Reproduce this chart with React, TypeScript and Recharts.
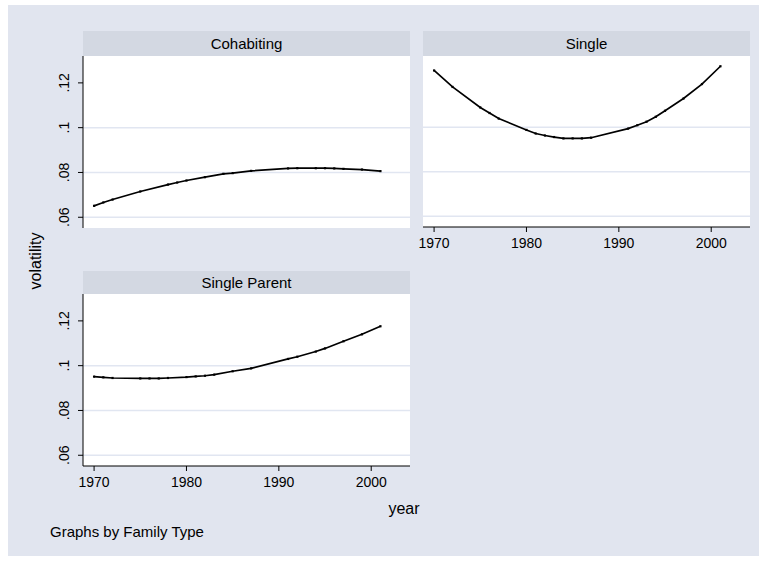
import React from "react";
import { LineChart, Line, XAxis, YAxis, ReferenceLine } from "recharts";

const cohabYears = [1970, 1971, 1972, 1975, 1978, 1979, 1980, 1982, 1984, 1985, 1987, 1991, 1992, 1994, 1995, 1996, 1997, 1999, 2001];
const cohabValues = [0.0651, 0.0666, 0.0679, 0.0715, 0.0746, 0.0755, 0.0764, 0.0779, 0.0794, 0.0797, 0.0807, 0.0818, 0.0819, 0.0819, 0.0819, 0.0818, 0.0816, 0.0813, 0.0806];

const singleYears = [1970, 1972, 1975, 1976, 1977, 1980, 1981, 1982, 1983, 1984, 1985, 1986, 1987, 1991, 1992, 1993, 1994, 1995, 1997, 1999, 2001];
const singleValues = [0.1255, 0.1181, 0.1089, 0.1064, 0.1039, 0.0988, 0.0972, 0.0963, 0.0956, 0.095, 0.095, 0.095, 0.0953, 0.0994, 0.1009, 0.1025, 0.1047, 0.1074, 0.1129, 0.1194, 0.1274];

const parentYears = [1970, 1971, 1972, 1975, 1976, 1977, 1978, 1980, 1981, 1982, 1983, 1985, 1987, 1991, 1992, 1994, 1995, 1997, 1999, 2001];
const parentValues = [0.0951, 0.0948, 0.0945, 0.0943, 0.0943, 0.0943, 0.0945, 0.0949, 0.0952, 0.0955, 0.096, 0.0975, 0.0988, 0.103, 0.104, 0.1063, 0.1077, 0.1109, 0.114, 0.1176];

const xTicks = [1970, 1980, 1990, 2000];
const yTicks = [0.06, 0.08, 0.1, 0.12];
const yTickLabels = [".06", ".08", ".1", ".12"];
const gridValues = [0.06, 0.08, 0.1];

const panelTitles = ["Cohabiting", "Single", "Single Parent"];

const toRows = (xs: number[], ys: number[]) => xs.map((x, i) => ({ year: x, v: ys[i] }));

const FONT = "'Liberation Sans', Arial, Helvetica, sans-serif";
const BG = "#e1e5ef";
const STRIP = "#d3d8e2";
const GRID = "#e1e6f1";

const XDOMAIN: [number, number] = [1968.8, 2004.2];
const YDOMAIN: [number, number] = [0.0552, 0.132];

const YTick = (props: any) => {
  const { x, y, payload } = props;
  const idx = yTicks.indexOf(payload.value);
  const label = idx >= 0 ? yTickLabels[idx] : String(payload.value);
  const cx = x - 7;
  return (
    <text
      x={cx}
      y={y}
      transform={`rotate(-90, ${cx}, ${y})`}
      textAnchor="middle"
      fontSize={14}
      fontFamily={FONT}
      fill="#000"
    >
      {label}
    </text>
  );
};

const XTick = (props: any) => {
  const { x, y, payload } = props;
  return (
    <text x={x} y={y + 14} textAnchor="middle" fontSize={14} fontFamily={FONT} fill="#000">
      {payload.value}
    </text>
  );
};

const Dot = (props: any) => {
  const { cx, cy } = props;
  if (cx == null || cy == null) return null;
  return <rect x={cx - 1.1} y={cy - 1.1} width={2.2} height={2.2} fill="#000" />;
};

type PanelProps = {
  rows: { year: number; v: number }[];
  showX: boolean;
  showY: boolean;
  width: number;
  height: number;
  leftPad: number;
};

const Panel = ({ rows, showX, showY, width, height, leftPad }: PanelProps) => {
  const plotLeft = (showY ? 43 : 0) + leftPad;
  return (
    <LineChart width={width} height={height} data={rows} margin={{ top: 0, right: 0, bottom: 0, left: leftPad }}>
      <rect x={plotLeft} y={0} width={width - plotLeft} height={height - (showX ? 30 : 0)} fill="#fff" />
      <XAxis
        dataKey="year"
        type="number"
        domain={XDOMAIN}
        ticks={xTicks}
        allowDataOverflow
        hide={!showX}
        height={30}
        axisLine={{ stroke: "#000", strokeWidth: 1 }}
        tickLine={{ stroke: "#000", strokeWidth: 1 }}
        tickSize={5}
        tick={<XTick />}
        interval={0}
      />
      <YAxis
        type="number"
        domain={YDOMAIN}
        ticks={yTicks}
        allowDataOverflow
        hide={!showY}
        width={43}
        axisLine={{ stroke: "#000", strokeWidth: 1 }}
        tickLine={{ stroke: "#000", strokeWidth: 1 }}
        tickSize={5}
        tick={<YTick />}
        interval={0}
      />
      {gridValues.map((g) => (
        <ReferenceLine key={g} y={g} stroke={GRID} strokeWidth={1.5} ifOverflow="hidden" />
      ))}
      <Line
        type="linear"
        dataKey="v"
        stroke="#000"
        strokeWidth={1.7}
        dot={<Dot />}
        activeDot={false}
        isAnimationActive={false}
      />
    </LineChart>
  );
};

const Strip = ({ left, top, width, height, title }: { left: number; top: number; width: number; height: number; title: string }) => (
  <div
    style={{
      position: "absolute",
      left,
      top,
      width,
      height,
      background: STRIP,
      fontFamily: FONT,
      fontSize: 15,
      lineHeight: `${height}px`,
      textAlign: "center",
      color: "#000",
    }}
  >
    {title}
  </div>
);

export default function App() {
  return (
    <div style={{ position: "absolute", left: 0, top: 0, width: 767, height: 561, background: "#fff", overflow: "hidden" }}>
      <div style={{ position: "absolute", left: 8, top: 5, width: 751, height: 551, background: BG }} />

      <Strip left={83} top={31} width={327} height={25} title={panelTitles[0]} />
      <div style={{ position: "absolute", left: 40, top: 56 }}>
        <Panel rows={toRows(cohabYears, cohabValues)} showX={false} showY={true} width={370} height={172} leftPad={0} />
      </div>

      <Strip left={423} top={31} width={327} height={25} title={panelTitles[1]} />
      <div style={{ position: "absolute", left: 403, top: 56 }}>
        <Panel rows={toRows(singleYears, singleValues)} showX={true} showY={false} width={347} height={201} leftPad={20} />
      </div>

      <Strip left={83} top={271} width={327} height={23} title={panelTitles[2]} />
      <div style={{ position: "absolute", left: 40, top: 294 }}>
        <Panel rows={toRows(parentYears, parentValues)} showX={true} showY={true} width={370} height={202} leftPad={0} />
      </div>

      <div
        style={{
          position: "absolute",
          left: 36,
          top: 261,
          transform: "translate(-50%, -50%) rotate(-90deg)",
          fontFamily: FONT,
          fontSize: 16,
          whiteSpace: "nowrap",
          color: "#000",
        }}
      >
        volatility
      </div>

      <div
        style={{
          position: "absolute",
          left: 404,
          top: 509,
          transform: "translate(-50%, -50%)",
          fontFamily: FONT,
          fontSize: 16,
          whiteSpace: "nowrap",
          color: "#000",
        }}
      >
        year
      </div>

      <div
        style={{
          position: "absolute",
          left: 50,
          top: 523,
          fontFamily: FONT,
          fontSize: 15,
          whiteSpace: "nowrap",
          color: "#000",
        }}
      >
        Graphs by Family Type
      </div>
    </div>
  );
}
